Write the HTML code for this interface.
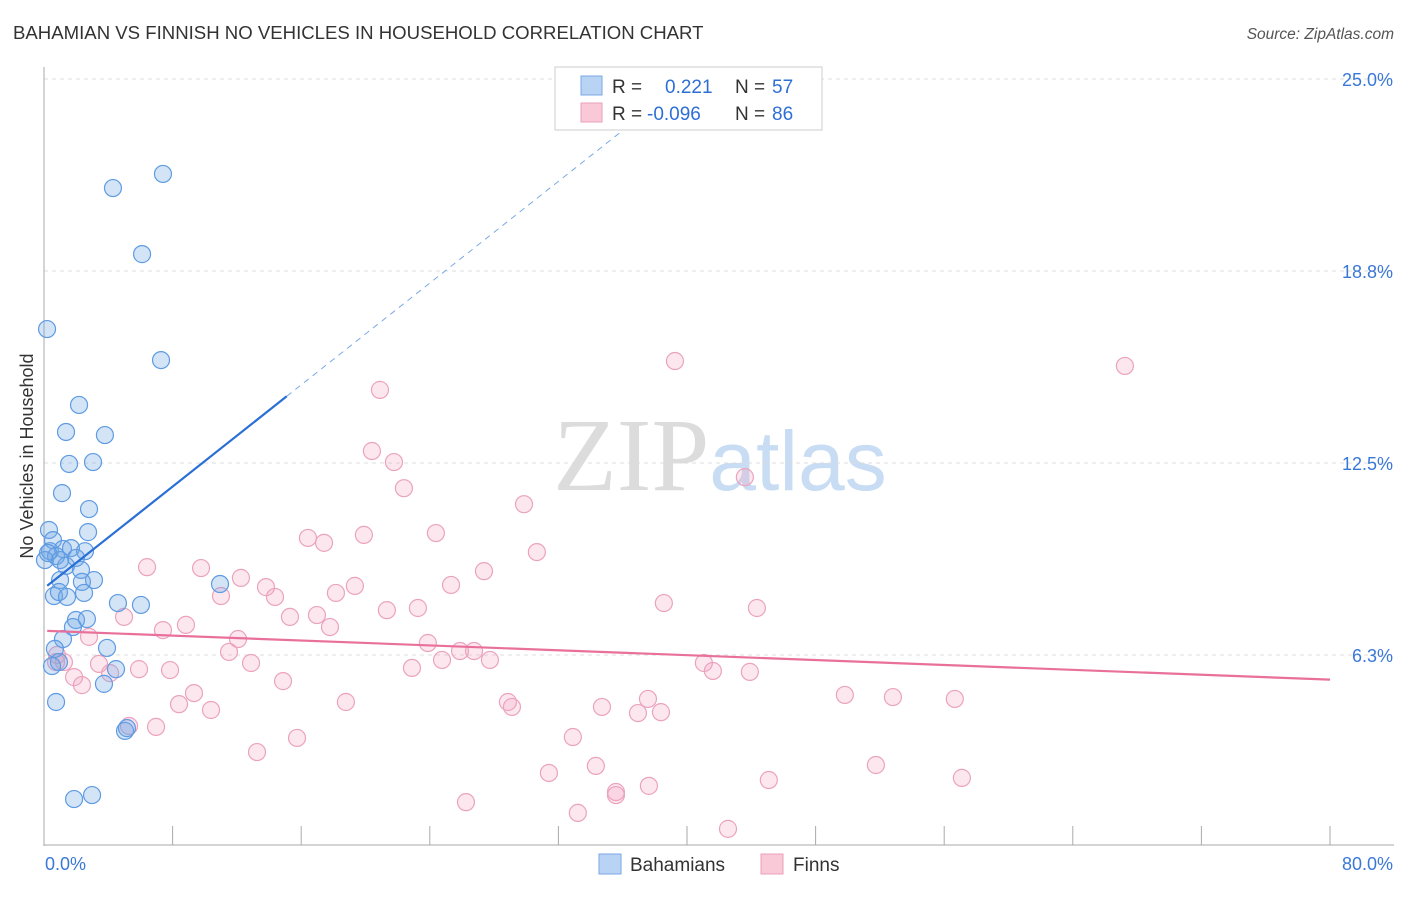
<!DOCTYPE html>
<html><head><meta charset="utf-8"><style>
body{margin:0;background:#fff;font-family:"Liberation Sans",sans-serif;}
svg text{font-family:"Liberation Sans",sans-serif;}
</style></head><body>
<svg id="chart" width="1406" height="892" xmlns="http://www.w3.org/2000/svg">
<text x="13" y="39" font-size="18.6" fill="#333">BAHAMIAN VS FINNISH NO VEHICLES IN HOUSEHOLD CORRELATION CHART</text>
<text x="1394" y="39" font-size="15.5" fill="#555" text-anchor="end" font-style="italic">Source: ZipAtlas.com</text>
<text x="720" y="490" font-size="104" text-anchor="middle"><tspan fill="#dcdcdc" font-family="Liberation Serif">ZIP</tspan><tspan fill="#c8dcf3" font-size="84">atlas</tspan></text>
<g id="grid"></g>
<g id="axes"></g>
<g id="marks"></g>
<text transform="translate(33,456) rotate(-90)" font-size="18" fill="#333" text-anchor="middle">No Vehicles in Household</text>
<g>
<rect x="555" y="67" width="267" height="63" fill="#fff" stroke="#ccc"/>
<rect x="581" y="76" width="21" height="19" fill="#b9d3f4" stroke="#7aa9e4"/>
<rect x="581" y="103" width="21" height="19" fill="#f9c9d8" stroke="#e9a0ba"/>
<text x="612" y="93" font-size="19" fill="#333">R = </text><text x="665" y="93" font-size="19" fill="#2e6fd6">0.221</text>
<text x="735" y="93" font-size="19" fill="#333">N = </text><text x="772" y="93" font-size="19" fill="#2e6fd6">57</text>
<text x="612" y="120" font-size="19" fill="#333">R = </text><text x="647" y="120" font-size="19" fill="#2e6fd6">-0.096</text>
<text x="735" y="120" font-size="19" fill="#333">N = </text><text x="772" y="120" font-size="19" fill="#2e6fd6">86</text>
</g>
<g>
<rect x="599" y="854" width="22" height="20" fill="#b9d3f4" stroke="#7aa9e4"/>
<text x="630" y="871" font-size="19" fill="#333">Bahamians</text>
<rect x="761" y="854" width="22" height="20" fill="#f9c9d8" stroke="#e9a0ba"/>
<text x="793" y="871" font-size="19" fill="#333">Finns</text>
</g>
</svg>
<script>
const xTicks=[0,8,16,24,32,40,48,56,64,72,80];
const yTicks=[6.25,12.5,18.75,25];
const yTickLabels=["6.3%","12.5%","18.8%","25.0%"];
const bahX=[4.29,7.40,6.10,0.19,7.28,2.18,1.37,3.79,1.56,3.05,1.12,2.80,0.31,2.74,0.56,0.37,1.18,1.68,2.55,0.75,1.99,1.37,2.30,1.00,3.11,2.36,0.62,0.93,1.43,2.49,4.60,6.03,10.95,1.99,2.67,1.80,1.18,3.92,0.68,0.93,0.50,4.48,3.73,0.75,5.04,5.16,1.87,2.99,0.25,0.06,1.00];
const bahY=[21.45,21.91,19.30,16.86,15.85,14.39,13.51,13.41,12.47,12.53,11.52,11.00,10.32,10.25,9.99,9.63,9.70,9.73,9.63,9.47,9.41,9.15,9.02,8.69,8.69,8.63,8.17,8.30,8.14,8.27,7.94,7.88,8.56,7.39,7.42,7.16,6.77,6.48,6.45,6.02,5.89,5.79,5.31,4.72,3.78,3.87,1.56,1.69,9.57,9.34,9.34];
const finX=[39.25,67.24,20.90,20.40,21.77,22.39,43.60,29.86,16.42,19.90,17.42,24.38,30.66,6.41,9.77,27.37,12.25,19.34,13.81,25.32,11.01,14.37,18.16,38.56,44.35,21.33,23.26,4.98,15.30,16.98,17.79,8.83,7.40,2.80,12.07,23.88,26.75,25.88,11.51,24.76,27.74,1.24,3.42,5.91,7.84,12.88,22.89,41.05,41.61,43.91,4.11,1.87,2.36,14.87,9.33,49.82,52.81,56.66,8.40,10.39,18.78,28.86,29.11,34.71,37.57,36.95,38.38,5.29,6.97,15.74,32.90,13.25,51.75,34.33,31.41,45.09,57.10,35.58,35.58,37.63,26.25,33.21,42.55,0.75,0.81];
const finY=[15.82,15.66,14.88,12.89,12.53,11.68,12.04,11.16,10.06,10.16,9.90,10.22,9.60,9.11,9.08,8.98,8.76,8.50,8.46,8.53,8.17,8.14,8.27,7.94,7.78,7.71,7.78,7.49,7.49,7.55,7.16,7.23,7.06,6.84,6.77,6.64,6.38,6.38,6.35,6.09,6.09,6.02,5.96,5.79,5.76,5.99,5.83,5.99,5.73,5.70,5.66,5.53,5.27,5.40,5.01,4.95,4.88,4.82,4.65,4.46,4.72,4.72,4.56,4.56,4.82,4.36,4.39,3.94,3.91,3.55,3.58,3.09,2.67,2.64,2.41,2.18,2.25,1.79,1.69,1.99,1.46,1.11,0.59,6.02,6.25];
const bahTrend=[8.42,0.414];
const finTrend=[7.04,-0.0199];
const NS="http://www.w3.org/2000/svg";
const X=v=>44+v/80*1286;
const Y=v=>847-v/6.25*192;
function mk(tag,attrs,parent){const e=document.createElementNS(NS,tag);for(const k in attrs)e.setAttribute(k,attrs[k]);document.getElementById(parent).appendChild(e);return e;}
yTicks.forEach((t,i)=>{
 const g=mk('line',{x1:44,x2:1394,y1:Y(t),y2:Y(t),stroke:'#ddd','stroke-dasharray':'4,4'},'grid');
 
 
 const l=mk('text',{x:1393,y:Y(t)+7,'font-size':18,fill:'#3a78d8','text-anchor':'end'},'axes');
 l.textContent=yTickLabels[i];
 
 
});
const ax=mk('line',{x1:44,x2:44,y1:67,y2:846,stroke:'#aaa'},'axes');


const bx=mk('line',{x1:44,x2:1394,y1:845,y2:845,stroke:'#aaa'},'axes');


xTicks.forEach(t=>{
 const tk=mk('line',{x1:X(t),x2:X(t),y1:826,y2:845,stroke:'#aaa'},'axes');
 
 
});
const xl0=mk('text',{x:45,y:870,'font-size':18,fill:'#3a78d8'},'axes');xl0.textContent=xTicks[0].toFixed(1)+'%';


const xl1=mk('text',{x:1393,y:870,'font-size':18,fill:'#3a78d8','text-anchor':'end'},'axes');xl1.textContent=xTicks[xTicks.length-1].toFixed(1)+'%';


finX.forEach((v,i)=>{
 const c=mk('circle',{cx:X(v),cy:Y(finY[i]),r:8.5,fill:'rgba(244,160,190,0.25)',stroke:'#eba3bd','stroke-width':1.2},'marks');
 
 
});
bahX.forEach((v,i)=>{
 const c=mk('circle',{cx:X(v),cy:Y(bahY[i]),r:8.5,fill:'rgba(110,165,230,0.3)',stroke:'#5f9be2','stroke-width':1.2},'marks');
 
 
});
const f=x=>bahTrend[0]+bahTrend[1]*x;
const b1=mk('line',{x1:X(0.2),y1:Y(f(0.2)),x2:X(15.1),y2:Y(f(15.1)),stroke:'#2a6fd6','stroke-width':2.2},'marks');


const b2=mk('line',{x1:X(15.1),y1:Y(f(15.1)),x2:X(38),y2:Y(f(38)),stroke:'#7aa9e4','stroke-width':1,'stroke-dasharray':'6,5'},'marks');


const g=x=>finTrend[0]+finTrend[1]*x;
const p1=mk('line',{x1:X(0.2),y1:Y(g(0.2)),x2:X(80),y2:Y(g(80)),stroke:'#e8709a','stroke-width':2.2},'marks');


</script>
</body></html>
